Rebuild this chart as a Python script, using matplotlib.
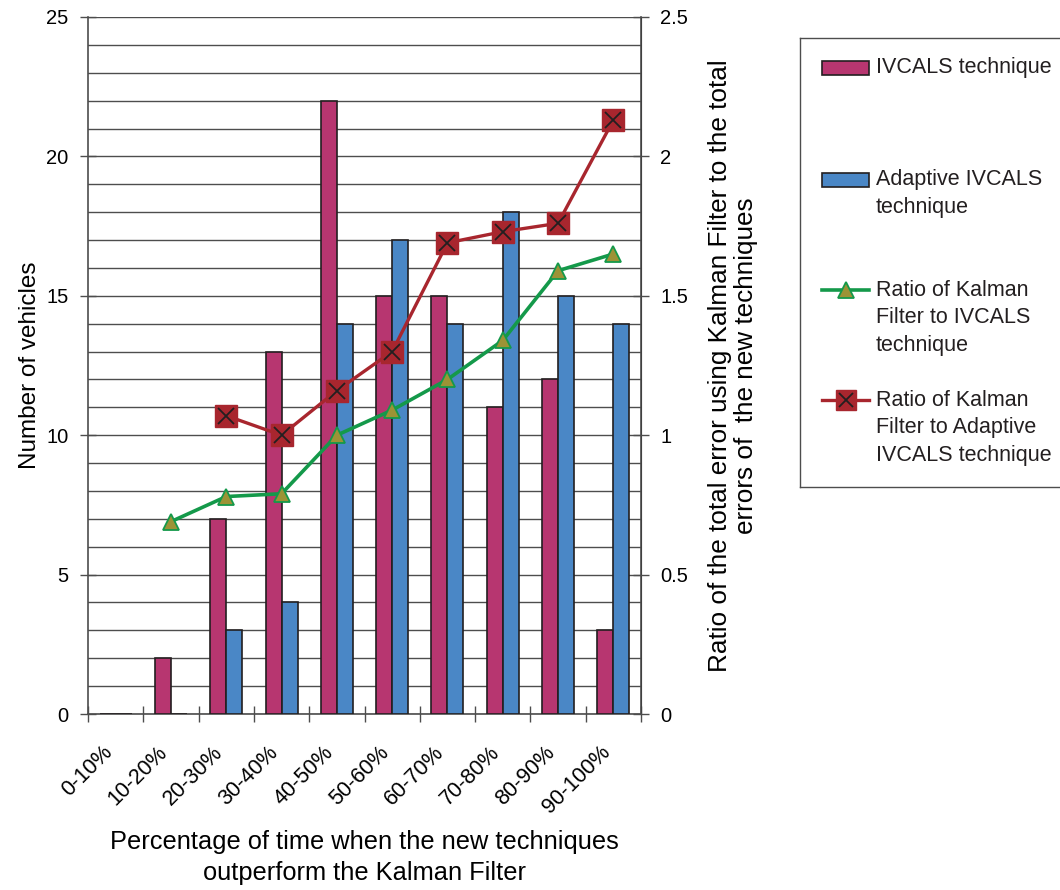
import matplotlib
matplotlib.use("Agg")
import matplotlib.pyplot as plt
import matplotlib.transforms as mtransforms
import numpy as np
from matplotlib.patches import Rectangle
from matplotlib.lines import Line2D
from matplotlib.ticker import MultipleLocator, FuncFormatter

plt.rcParams["font.family"] = ["Liberation Sans", "DejaVu Sans"]
plt.rcParams["text.color"] = "#231f20"

categories = ["0-10%", "10-20%", "20-30%", "30-40%", "40-50%",
              "50-60%", "60-70%", "70-80%", "80-90%", "90-100%"]
ivcals = [0, 2, 7, 13, 22, 15, 15, 11, 12, 3]
adaptive = [0, 0, 3, 4, 14, 17, 14, 18, 15, 14]
ratio_ivcals = [np.nan, 0.69, 0.78, 0.79, 1.00, 1.09, 1.20, 1.34, 1.59, 1.65]
ratio_adaptive = [np.nan, np.nan, 1.07, 1.00, 1.16, 1.30, 1.69, 1.73, 1.76, 2.13]

MAGENTA = "#b73670"
BLUE = "#4a87c6"
GREEN = "#14994a"
OLIVE = "#9c9336"
RED = "#a8262e"
GRID = "#4d4d4d"

fig = plt.figure(figsize=(10.6, 8.9), dpi=100)
fig.patch.set_facecolor("white")
ax = fig.add_axes([88 / 1060, 1 - 714 / 890, 553 / 1060, 697 / 890])
ax2 = ax.twinx()

x = np.arange(len(categories))
bw = 0.29
ax.bar(x - bw / 2, ivcals, width=bw, color=MAGENTA, edgecolor="#231f20",
       linewidth=1.2, zorder=3)
ax.bar(x + bw / 2, adaptive, width=bw, color=BLUE, edgecolor="#231f20",
       linewidth=1.2, zorder=3)

ax.set_xlim(-0.5, len(categories) - 0.5)
ax.set_ylim(0, 25)
ax.yaxis.set_major_locator(MultipleLocator(5))
ax.yaxis.set_minor_locator(MultipleLocator(1))
ax.grid(True, axis="y", which="both", color=GRID, linewidth=1.0, zorder=0)
ax.set_axisbelow(True)

# category labels at the centres, tick marks on the boundaries
ax.set_xticks(x)
ax.set_xticklabels(categories, rotation=45, ha="right", va="top",
                   rotation_mode="anchor", fontsize=15.5)
ax.tick_params(axis="x", which="major", length=0, pad=20)
shift = mtransforms.ScaledTranslation(-14 / 100, 0, fig.dpi_scale_trans)
for lbl in ax.get_xticklabels():
    lbl.set_transform(lbl.get_transform() + shift)
ax.set_xticks(np.arange(len(categories) + 1) - 0.5, minor=True)
ax.tick_params(axis="x", which="minor", direction="inout", length=12,
               width=1.0, color=GRID)
ax.tick_params(axis="y", which="major", direction="inout", length=12,
               width=1.0, color=GRID, labelsize=14.5, pad=8)
ax.tick_params(axis="y", which="minor", length=0)

ax.spines["top"].set_visible(False)
ax2.spines["top"].set_visible(False)
for sp in [ax.spines["left"], ax.spines["bottom"], ax2.spines["right"]]:
    sp.set_color(GRID)
    sp.set_linewidth(1.2)
ax2.spines["left"].set_visible(False)
ax2.spines["bottom"].set_visible(False)

ax2.plot(x, ratio_ivcals, color=GREEN, linewidth=2.6, marker="^",
         markersize=11, markerfacecolor=OLIVE, markeredgecolor=GREEN,
         markeredgewidth=1.3, zorder=4)
ax2.plot(x, ratio_adaptive, color=RED, linewidth=2.4, marker="s",
         markersize=16, markerfacecolor=RED, markeredgecolor=RED, zorder=5)
ax2.plot(x, ratio_adaptive, linestyle="none", marker="x", markersize=11,
         markeredgecolor="#231f20", markeredgewidth=1.3, zorder=6)
ax2.set_ylim(0, 2.5)
ax2.yaxis.set_major_locator(MultipleLocator(0.5))
ax2.yaxis.set_major_formatter(FuncFormatter(lambda v, p: f"{v:g}"))
ax2.tick_params(axis="y", direction="inout", length=12, width=1.0,
                color=GRID, labelsize=14.5, pad=8)

ax.set_ylabel("Number of vehicles", fontsize=17.5, labelpad=4)
ax.set_xlabel("Percentage of time when the new techniques\n"
              "outperform the Kalman Filter", fontsize=18.3,
              linespacing=1.4)
ax.xaxis.set_label_coords(0.5, -0.166)
ax2.set_ylabel("Ratio of the total error using Kalman Filter to the total\n"
               "errors of  the new techniques", fontsize=18.8, labelpad=14,
               linespacing=1.1)

# legend box drawn in figure pixel coordinates
lax = fig.add_axes([800 / 1060, 1 - 487 / 890, 262 / 1060, 449 / 890])
lax.set_xlim(800, 1062)
lax.set_ylim(487, 38)
lax.set_xticks([])
lax.set_yticks([])
for sp in lax.spines.values():
    sp.set_color(GRID)
    sp.set_linewidth(1.0)

legend_labels = [
    ["IVCALS technique"],
    ["Adaptive IVCALS", "technique"],
    ["Ratio of Kalman", "Filter to IVCALS", "technique"],
    ["Ratio of Kalman", "Filter to Adaptive", "IVCALS technique"],
]
first_rows = [68, 180, 290, 400]
for i, (lines, y0) in enumerate(zip(legend_labels, first_rows)):
    if i == 0:
        lax.add_patch(Rectangle((822, y0 - 7), 47, 14, facecolor=MAGENTA,
                                edgecolor="#231f20", linewidth=1.2))
    elif i == 1:
        lax.add_patch(Rectangle((822, y0 - 7), 47, 14, facecolor=BLUE,
                                edgecolor="#231f20", linewidth=1.2))
    elif i == 2:
        lax.add_line(Line2D([822, 869], [y0, y0], color=GREEN, linewidth=2.6))
        lax.add_line(Line2D([845.5], [y0], marker="^", markersize=11,
                            markerfacecolor=OLIVE, markeredgecolor=GREEN,
                            markeredgewidth=1.3))
    else:
        lax.add_line(Line2D([822, 869], [y0, y0], color=RED, linewidth=2.4))
        lax.add_line(Line2D([845.5], [y0], marker="s", markersize=15,
                            markerfacecolor=RED, markeredgecolor=RED))
        lax.add_line(Line2D([845.5], [y0], marker="x", markersize=10,
                            markeredgecolor="#231f20", markeredgewidth=1.3))
    for j, line in enumerate(lines):
        lax.text(876, y0 + j * 27.5, line, fontsize=15.5, va="center",
                 ha="left")

fig.savefig("out.png", dpi=100, facecolor="white")
